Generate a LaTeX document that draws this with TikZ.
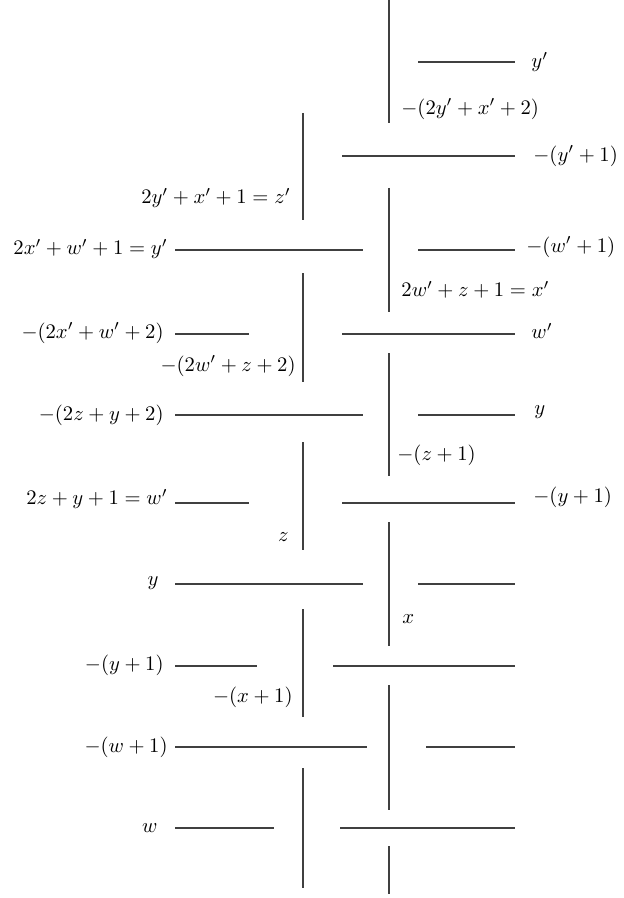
\documentclass[tikz,border=0pt]{standalone}
\begin{document}
\begin{tikzpicture}[x=0.484pt,y=-0.484pt,
  seg/.style={line width=0.5pt, black!75},
  lbl/.style={inner sep=0pt}]
\useasboundingbox (0,0) rectangle (623,898);
% right column of vertical strands
\foreach \a/\b in {0/123,188/312,353/476,522/646,685/810,846/894}
  \draw[seg] (389,\a) -- (389,\b);
% left column of vertical strands
\foreach \a/\b in {113/220,273/382,442/550,609/717,768/888}
  \draw[seg] (303,\a) -- (303,\b);
% horizontal strands
\draw[seg] (418,62) -- (515,62);
\draw[seg] (342,156) -- (515,156);
\draw[seg] (175,250) -- (363,250);
\draw[seg] (418,250) -- (515,250);
\draw[seg] (175,334) -- (249,334);
\draw[seg] (342,334) -- (515,334);
\draw[seg] (175,415) -- (363,415);
\draw[seg] (418,415) -- (515,415);
\draw[seg] (175,503) -- (249,503);
\draw[seg] (342,503) -- (515,503);
\draw[seg] (175,584) -- (363,584);
\draw[seg] (418,584) -- (515,584);
\draw[seg] (175,666) -- (257,666);
\draw[seg] (333,666) -- (515,666);
\draw[seg] (175,747) -- (367,747);
\draw[seg] (426,747) -- (515,747);
\draw[seg] (175,828) -- (274,828);
\draw[seg] (340,828) -- (515,828);
% labels
\node[lbl,anchor=west] (l1) at (531,62) {$y'$};
\node[lbl,anchor=west] (l2) at (401,109) {$-(2y'+x'+2)$};
\node[lbl,anchor=west] (l3) at (533,156) {$-(y'+1)$};
\node[lbl,anchor=east] (l4) at (291,198) {$2y'+x'+1=z'$};
\node[lbl,anchor=east] (l5) at (168,249) {$2x'+w'+1=y'$};
\node[lbl,anchor=west] (l6) at (526,247) {$-(w'+1)$};
\node[lbl,anchor=west] (l7) at (401,290) {$2w'+z+1=x'$};
\node[lbl,anchor=east] (l8) at (164,333) {$-(2x'+w'+2)$};
\node[lbl,anchor=west] (l9) at (531,331) {$w'$};
\node[lbl,anchor=east] (l10) at (296,366) {$-(2w'+z+2)$};
\node[lbl,anchor=east] (l11) at (164,415) {$-(2z+y+2)$};
\node[lbl,anchor=west] (l12) at (534,412) {$y$};
\node[lbl,anchor=west] (l13) at (397,455) {$-(z+1)$};
\node[lbl,anchor=east] (l14) at (168,499) {$2z+y+1=w'$};
\node[lbl,anchor=west] (l15) at (533,497) {$-(y+1)$};
\node[lbl,anchor=east] (l16) at (289,537) {$z$};
\node[lbl,anchor=east] (l17) at (159,583) {$y$};
\node[lbl,anchor=west] (l18) at (402,619) {$x$};
\node[lbl,anchor=east] (l19) at (164,665) {$-(y+1)$};
\node[lbl,anchor=east] (l20) at (293,697) {$-(x+1)$};
\node[lbl,anchor=east] (l21) at (168,747) {$-(w+1)$};
\node[lbl,anchor=east] (l22) at (158,828) {$w$};
\end{tikzpicture}
\end{document}
